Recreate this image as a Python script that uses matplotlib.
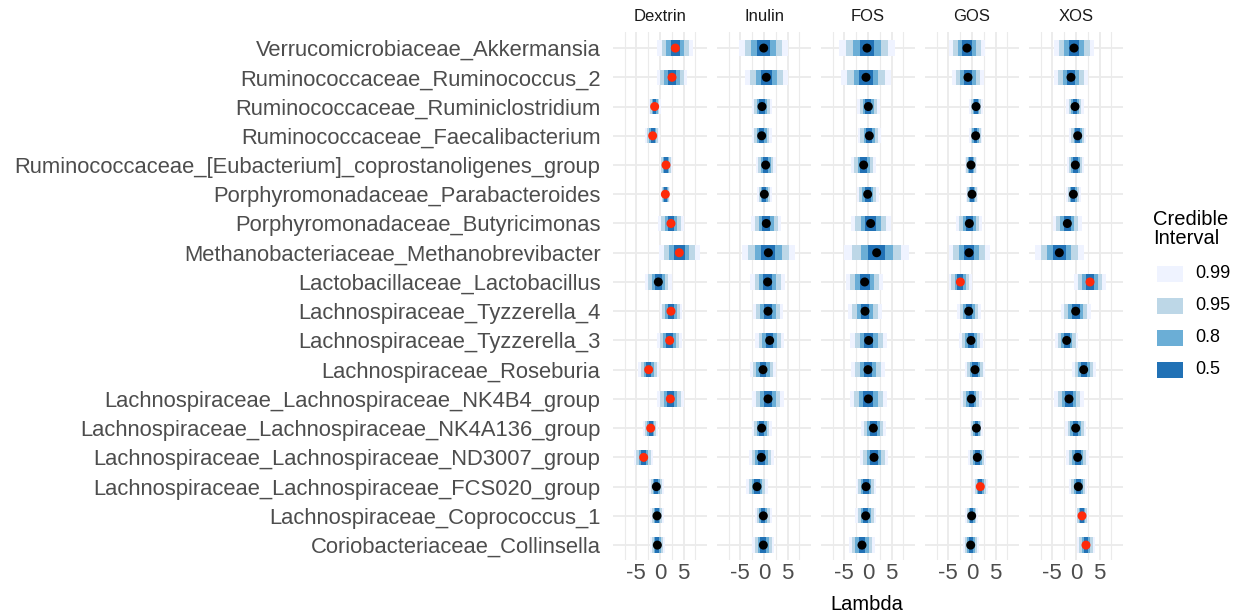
import numpy as np
import matplotlib.pyplot as plt
from matplotlib.patches import Rectangle

plt.rcParams['font.family'] = ['Liberation Sans', 'DejaVu Sans']
plt.rcParams['axes.unicode_minus'] = False

taxa = [
    "Verrucomicrobiaceae_Akkermansia",
    "Ruminococcaceae_Ruminococcus_2",
    "Ruminococcaceae_Ruminiclostridium",
    "Ruminococcaceae_Faecalibacterium",
    "Ruminococcaceae_[Eubacterium]_coprostanoligenes_group",
    "Porphyromonadaceae_Parabacteroides",
    "Porphyromonadaceae_Butyricimonas",
    "Methanobacteriaceae_Methanobrevibacter",
    "Lactobacillaceae_Lactobacillus",
    "Lachnospiraceae_Tyzzerella_4",
    "Lachnospiraceae_Tyzzerella_3",
    "Lachnospiraceae_Roseburia",
    "Lachnospiraceae_Lachnospiraceae_NK4B4_group",
    "Lachnospiraceae_Lachnospiraceae_NK4A136_group",
    "Lachnospiraceae_Lachnospiraceae_ND3007_group",
    "Lachnospiraceae_Lachnospiraceae_FCS020_group",
    "Lachnospiraceae_Coprococcus_1",
    "Coriobacteriaceae_Collinsella",
]
treatments = ["Dextrin", "Inulin", "FOS", "GOS", "XOS"]

# posterior median of lambda per taxon
dextrin_med = [3.24, 2.54, -1.13, -1.55, 1.27, 1.13, 2.32, 4.08, -0.35, 2.32, 2.04, -2.39, 2.18, -1.97, -3.45, -0.77, -0.63, -0.56]
inulin_med = [-0.07, 0.49, -0.42, -0.49, 0.35, 0.07, 0.49, 0.92, 0.77, 0.85, 1.20, -0.21, 0.85, -0.49, -0.56, -1.48, -0.14, -0.14]
fos_med = [-0.21, -0.42, 0.07, 0.28, -0.92, -0.07, 0.56, 1.83, -0.70, -0.63, 0.14, 0.0, 0.07, 1.13, 1.27, -0.42, -0.49, -1.27]
gos_med = [-1.06, -0.85, 0.85, 0.77, -0.21, 0.0, -0.56, -0.63, -2.46, -0.70, -0.21, 0.63, -0.14, 0.92, 1.13, 1.76, -0.07, -0.28]
xos_med = [-0.42, -1.06, -0.21, 0.35, -0.14, -0.56, -1.83, -3.52, 2.96, -0.07, -1.97, 1.62, -1.48, -0.07, 0.35, 0.49, 1.27, 2.11]

# posterior spread (sd) of lambda per taxon
dextrin_sd = [1.48, 1.26, 0.48, 0.60, 0.49, 0.40, 1.03, 1.67, 1.09, 0.92, 1.03, 0.85, 1.12, 0.59, 0.79, 0.62, 0.55, 0.62]
inulin_sd = [2.02, 1.75, 0.82, 0.81, 0.82, 0.59, 1.24, 2.19, 1.41, 1.26, 1.19, 1.09, 1.31, 0.81, 1.03, 0.89, 0.67, 0.89]
fos_sd = [2.27, 2.05, 0.93, 0.96, 1.00, 0.89, 1.65, 2.64, 1.53, 1.39, 1.50, 1.37, 1.53, 1.03, 1.15, 0.85, 0.85, 1.09]
gos_sd = [1.46, 1.28, 0.55, 0.55, 0.51, 0.51, 1.07, 1.68, 0.96, 0.97, 1.00, 0.82, 0.85, 0.55, 0.75, 0.62, 0.52, 0.66]
xos_sd = [1.67, 1.39, 0.70, 0.68, 0.70, 0.62, 1.18, 2.00, 1.34, 1.23, 0.96, 0.98, 1.23, 0.86, 0.93, 0.75, 0.51, 0.72]

# 1 = credible effect (red point)
dextrin_sig = [1, 1, 1, 1, 1, 1, 1, 1, 0, 1, 1, 1, 1, 1, 1, 0, 0, 0]
inulin_sig = [0] * 18
fos_sig = [0] * 18
gos_sig = [0, 0, 0, 0, 0, 0, 0, 0, 1, 0, 0, 0, 0, 0, 0, 1, 0, 0]
xos_sig = [0, 0, 0, 0, 0, 0, 0, 0, 1, 0, 0, 0, 0, 0, 0, 0, 1, 1]

medians = [dextrin_med, inulin_med, fos_med, gos_med, xos_med]
sds = [dextrin_sd, inulin_sd, fos_sd, gos_sd, xos_sd]
sigs = [dextrin_sig, inulin_sig, fos_sig, gos_sig, xos_sig]

levels = [0.99, 0.95, 0.8, 0.5]
z_vals = [2.576, 1.960, 1.2816, 0.6745]
level_colors = ["#EFF3FF", "#BDD7E7", "#6BAED6", "#2171B5"]

W, H = 1238, 615
fig = plt.figure(figsize=(W / 100, H / 100), dpi=100)

panel_left = [613, 717, 821, 925, 1029]
panel_w = 94
panel_top, panel_bot = 32, 560
y = np.arange(len(taxa))

for i, name in enumerate(treatments):
    ax = fig.add_axes([panel_left[i] / W, 1 - panel_bot / H, panel_w / W, (panel_bot - panel_top) / H])
    med = np.array(medians[i])
    sd = np.array(sds[i])
    for zv, col in zip(z_vals, level_colors):
        ax.barh(y, 2 * zv * sd, left=med - zv * sd, height=0.52, color=col, linewidth=0, zorder=2)
    pt_col = ["#FF2A0A" if s else "black" for s in sigs[i]]
    ax.scatter(med, y, s=42, c=pt_col, zorder=3, linewidths=0)

    ax.set_xlim(-9.93, 9.93)
    ax.set_ylim(17.51, -0.55)
    ax.set_xticks([-5, 0, 5])
    ax.set_xticks([-7.5, -2.5, 2.5, 7.5], minor=True)
    ax.set_yticks(y)
    ax.grid(True, which="major", color="#EBEBEB", linewidth=1.3, zorder=0)
    ax.grid(True, which="minor", axis="x", color="#EBEBEB", linewidth=0.8, zorder=0)
    ax.set_axisbelow(True)
    for s in ax.spines.values():
        s.set_visible(False)
    ax.tick_params(axis="both", which="both", length=0)
    ax.tick_params(axis="x", labelsize=16, labelcolor="#4D4D4D", pad=2)
    if i == 0:
        ax.set_yticklabels(taxa, fontsize=15.8, color="#4D4D4D")
        ax.tick_params(axis="y", pad=9)
    else:
        ax.set_yticklabels([])
    ax.set_title(name, fontsize=12, color="#1A1A1A", pad=8)

fig.text(867 / W, 1 - 604 / H, "Lambda", ha="center", va="center", fontsize=14.5)

# legend
fig.text(1153 / W, 1 - 229 / H, "Credible\nInterval", ha="left", va="center", fontsize=14.5, linespacing=1.05)
key_y = [274, 306, 338, 370]
for lv, col, ky in zip(levels, level_colors, key_y):
    fig.patches.append(Rectangle((1157 / W, 1 - (ky + 8) / H), 26 / W, 16 / H,
                                 transform=fig.transFigure, facecolor=col, edgecolor="none"))
    fig.text(1195 / W, 1 - ky / H, str(lv), ha="left", va="center", fontsize=13)

fig.savefig("out.png", dpi=100)
